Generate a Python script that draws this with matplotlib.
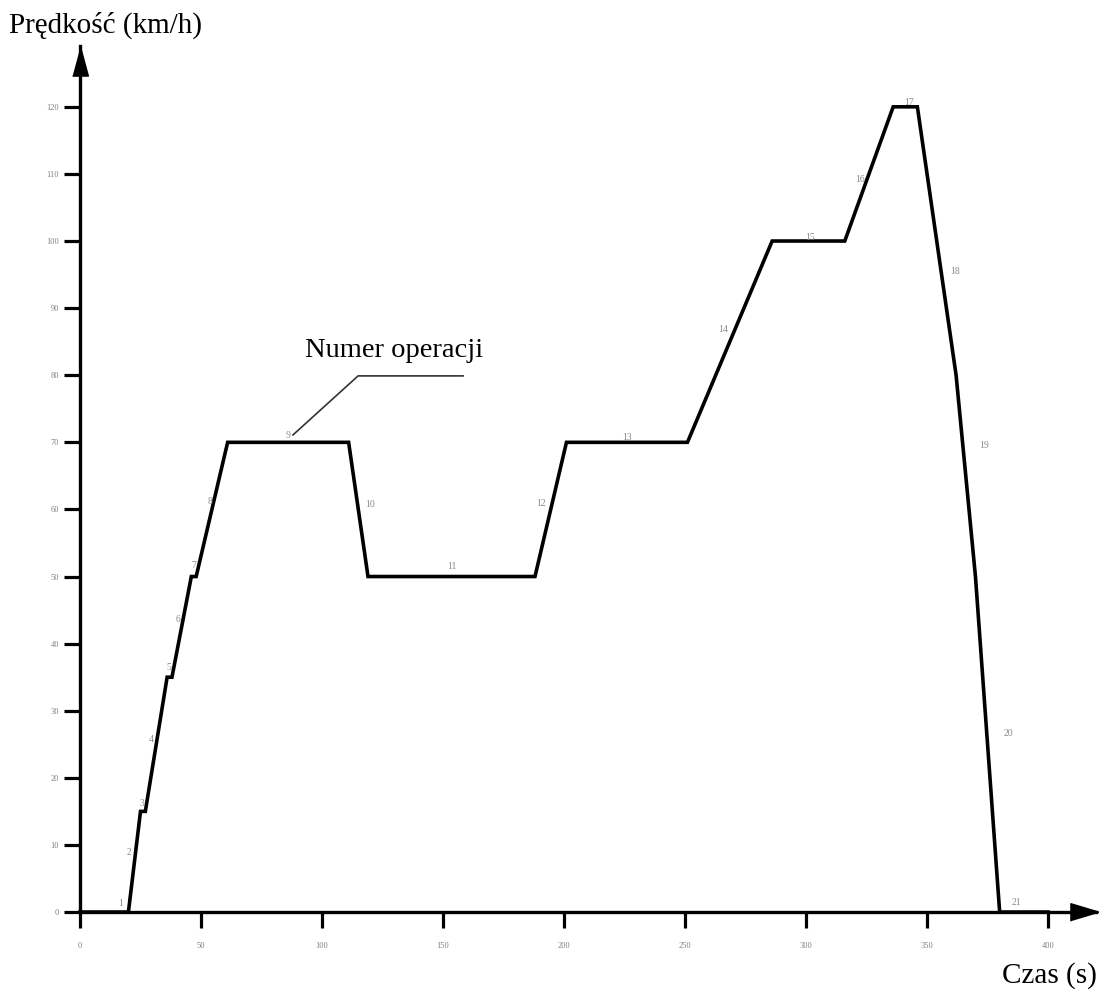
import matplotlib
matplotlib.use('Agg')
import matplotlib.pyplot as plt

# Cykl jezdny: czas (s) i prędkość (km/h) w punktach załamania
czas = [0, 20, 25, 27, 36, 38, 46, 48, 61, 111, 119, 188, 201, 251, 286, 316, 336, 346, 362, 370, 380, 400]
predkosc = [0, 0, 15, 15, 35, 35, 50, 50, 70, 70, 50, 50, 70, 70, 100, 100, 120, 120, 80, 50, 0, 0]
operacje = list(range(1, 22))

x_ticks = [0, 50, 100, 150, 200, 250, 300, 350, 400]
y_ticks = [0, 10, 20, 30, 40, 50, 60, 70, 80, 90, 100, 110, 120]

# przesunięcia numerów operacji względem środka odcinka (w pikselach)
offsets = [(16, 9), (-5, 9), (-1, 8), (-5, 5), (-1, 10), (-4, 7), (0, 11), (-2, 8),
           (0, 7), (12, 5), (0, 10), (-10, 6), (0, 5), (-7, 12), (2, 4), (-9, -6),
           (4, 4), (18, -30), (18, 30), (21, 11), (-7, 10)]

plt.rcParams['font.family'] = ['Liberation Serif', 'DejaVu Serif']

fig = plt.figure(figsize=(10.99, 9.92), dpi=100)
ax = fig.add_axes([80 / 1099, 0.0806, 0.9249, 0.8726])
ax.set_xlim(0, 420)
ax.set_ylim(0, 129)

ax.plot(czas, predkosc, color='black', lw=2.6, solid_joinstyle='miter', clip_on=False, zorder=3)

# numery operacji
for i, nr in enumerate(operacje):
    tm = (czas[i] + czas[i + 1]) / 2
    vm = (predkosc[i] + predkosc[i + 1]) / 2
    ax.annotate(str(nr), (tm, vm), xytext=offsets[i], textcoords='offset pixels',
                ha='center', va='center', fontsize=7, color='#8a8a8a')

# linia odniesienia "Numer operacji"
ax.plot([88, 114.9, 158.3], [71.1, 79.9, 79.9], color='#333333', lw=1.2)
ax.text(129.8, 82.7, 'Numer operacji', ha='center', va='baseline', fontsize=20.5)

# osie ze strzałkami
for s in ['top', 'right']:
    ax.spines[s].set_visible(False)
ax.spines['left'].set_linewidth(2.4)
ax.spines['bottom'].set_linewidth(2.4)
arrow_up = [(-0.54, -1), (0.54, -1), (0, 1)]
arrow_right = [(-1, -0.6), (-1, 0.6), (1, 0)]
ax.plot(0, 126.8, marker=arrow_up, ms=21, color='black', clip_on=False)
ax.plot(415.3, 0, marker=arrow_right, ms=21, color='black', clip_on=False)

ax.set_xticks(x_ticks)
ax.set_yticks(y_ticks)
ax.tick_params(axis='both', direction='out', length=11.5, width=2.3, labelsize=6, labelcolor='#808080')
ax.tick_params(axis='x', pad=10)
ax.tick_params(axis='y', pad=3.5)

fig.text(9 / 1099, 1 - 33 / 992, 'Prędkość (km/h)', ha='left', va='baseline', fontsize=21)
fig.text(1097 / 1099, 1 - 983 / 992, 'Czas (s)', ha='right', va='baseline', fontsize=21)

fig.savefig('out.png', dpi=100)
